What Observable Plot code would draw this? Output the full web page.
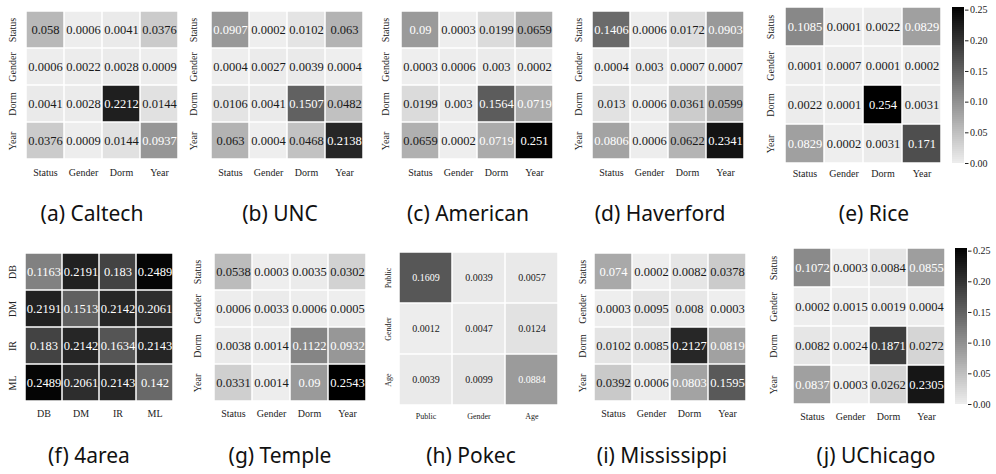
<!DOCTYPE html>
<html>
<head>
<meta charset="utf-8">
<script src="https://cdn.jsdelivr.net/npm/d3@7"></script>
<script src="https://cdn.jsdelivr.net/npm/@observablehq/plot@0.6"></script>
<style>
  html, body { margin: 0; padding: 0; background: #fff; }
  #root { position: relative; width: 996px; height: 474px; overflow: hidden; background: #fff; }
  .panel { position: absolute; }
  #root svg, #root svg text, #root svg g { font-family: "Liberation Serif", "DejaVu Serif", serif !important; }
  .cap { position: absolute; font-family: "Noto Sans", sans-serif; font-size: 21px; color: #111; white-space: nowrap; transform: translate(-50%, -50%); line-height: 1; }
</style>
</head>
<body>
<div id="root"></div>
<script>
// ---------- data ----------
const facLabels = ["Status", "Gender", "Dorm", "Year"];
const areaLabels = ["DB", "DM", "IR", "ML"];
const pokecLabels = ["Public", "Gender", "Age"];

const caltech = [
  [0.058, 0.0006, 0.0041, 0.0376],
  [0.0006, 0.0022, 0.0028, 0.0009],
  [0.0041, 0.0028, 0.2212, 0.0144],
  [0.0376, 0.0009, 0.0144, 0.0937]
];
const unc = [
  [0.0907, 0.0002, 0.0102, 0.063],
  [0.0004, 0.0027, 0.0039, 0.0004],
  [0.0106, 0.0041, 0.1507, 0.0482],
  [0.063, 0.0004, 0.0468, 0.2138]
];
const american = [
  [0.09, 0.0003, 0.0199, 0.0659],
  [0.0003, 0.0006, 0.003, 0.0002],
  [0.0199, 0.003, 0.1564, 0.0719],
  [0.0659, 0.0002, 0.0719, 0.251]
];
const haverford = [
  [0.1406, 0.0006, 0.0172, 0.0903],
  [0.0004, 0.003, 0.0007, 0.0007],
  [0.013, 0.0006, 0.0361, 0.0599],
  [0.0806, 0.0006, 0.0622, 0.2341]
];
const rice = [
  [0.1085, 0.0001, 0.0022, 0.0829],
  [0.0001, 0.0007, 0.0001, 0.0002],
  [0.0022, 0.0001, 0.254, 0.0031],
  [0.0829, 0.0002, 0.0031, 0.171]
];
const area4 = [
  [0.1163, 0.2191, 0.183, 0.2489],
  [0.2191, 0.1513, 0.2142, 0.2061],
  [0.183, 0.2142, 0.1634, 0.2143],
  [0.2489, 0.2061, 0.2143, 0.142]
];
const temple = [
  [0.0538, 0.0003, 0.0035, 0.0302],
  [0.0006, 0.0033, 0.0006, 0.0005],
  [0.0038, 0.0014, 0.1122, 0.0932],
  [0.0331, 0.0014, 0.09, 0.2543]
];
const pokec = [
  [0.1609, 0.0039, 0.0057],
  [0.0012, 0.0047, 0.0124],
  [0.0039, 0.0099, 0.0884]
];
const mississippi = [
  [0.074, 0.0002, 0.0082, 0.0378],
  [0.0003, 0.0095, 0.008, 0.0003],
  [0.0102, 0.0085, 0.2127, 0.0819],
  [0.0392, 0.0006, 0.0803, 0.1595]
];
const uchicago = [
  [0.1072, 0.0003, 0.0084, 0.0855],
  [0.0002, 0.0015, 0.0019, 0.0004],
  [0.0082, 0.0024, 0.1871, 0.0272],
  [0.0837, 0.0003, 0.0262, 0.2305]
];
const captions = ["(a) Caltech", "(b) UNC", "(c) American", "(d) Haverford", "(e) Rice",
                  "(f) 4area", "(g) Temple", "(h) Pokec", "(i) Mississippi", "(j) UChicago"];
const colorbarTicks = [0, 0.05, 0.1, 0.15, 0.2, 0.25];

// ---------- layout ----------
const panels = [
  {values: caltech, labels: facLabels},
  {values: unc, labels: facLabels},
  {values: american, labels: facLabels},
  {values: haverford, labels: facLabels},
  {values: rice, labels: facLabels},
  {values: area4, labels: areaLabels},
  {values: temple, labels: facLabels},
  {values: pokec, labels: pokecLabels},
  {values: mississippi, labels: facLabels},
  {values: uchicago, labels: facLabels}
];
const layout = [
  {x0: 25, x1: 179, y0: 11, y1: 159, yOff: 12.5, xOff: 13.5, cx: 92, cy: 213},
  {x0: 210, x1: 363, y0: 11, y1: 159, yOff: 17, xOff: 13.5, cx: 280, cy: 213},
  {x0: 401, x1: 553, y0: 11, y1: 159, yOff: 16, xOff: 13.5, cx: 468, cy: 213},
  {x0: 592, x1: 744, y0: 11, y1: 159, yOff: 14, xOff: 13.5, cx: 660, cy: 213},
  {x0: 783, x1: 942, y0: 7, y1: 163, yOff: 13, xOff: 10, cx: 874, cy: 213},
  {x0: 23, x1: 174, y0: 252, y1: 401, yOff: 11, xOff: 12.5, cx: 89, cy: 455},
  {x0: 214, x1: 366, y0: 252, y1: 401, yOff: 17, xOff: 12.5, cx: 280, cy: 455},
  {x0: 398, x1: 558, y0: 251, y1: 405, yOff: 10, xOff: 11, cx: 471, cy: 455, small: true},
  {x0: 592, x1: 747, y0: 252, y1: 401, yOff: 10, xOff: 12.5, cx: 662, cy: 455},
  {x0: 792, x1: 946, y0: 248, y1: 404, yOff: 19, xOff: 12, cx: 876, cy: 455}
];
const colorbars = [
  {x0: 952, x1: 964, y0: 7, y1: 163},
  {x0: 955, x1: 967, y0: 248, y1: 404}
];

const serif = "Liberation Serif";
const vmax = d3.max(panels.flatMap(p => p.values.flat()));
const lowColor = "#eeeeee";
const colorScale = {type: "linear", domain: [0, vmax], range: [lowColor, "#000000"]};
const interp = d3.scaleLinear().domain([0, vmax]).range([lowColor, "#000000"]);
function isDark(v) {
  const c = d3.rgb(interp(v));
  const lin = x => { x /= 255; return x <= 0.03928 ? x / 12.92 : Math.pow((x + 0.055) / 1.055, 2.4); };
  const lum = 0.2126 * lin(c.r) + 0.7152 * lin(c.g) + 0.0722 * lin(c.b);
  return lum <= 0.408;
}

const root = document.getElementById("root");
const mL = 32, mR = 4, mT = 4, mB = 26;

panels.forEach((p, k) => {
  const L = layout[k];
  const cells = [];
  p.labels.forEach((r, i) => p.labels.forEach((c, j) => cells.push({row: r, col: c, v: p.values[i][j]})));
  const w = L.x1 - L.x0, h = L.y1 - L.y0;
  const cellFont = L.small ? 10 : 12.5;
  const tickFont = L.small ? 8 : 10;
  const chart = Plot.plot({
    width: w + mL + mR, height: h + mT + mB,
    marginLeft: mL, marginRight: mR, marginTop: mT, marginBottom: mB,
    style: {background: "transparent", overflow: "visible"},
    x: {type: "band", domain: p.labels, padding: 0, axis: null},
    y: {type: "band", domain: p.labels, padding: 0, axis: null},
    color: colorScale,
    marks: [
      Plot.cell(cells, {x: "col", y: "row", fill: "v", inset: 0.75}),
      Plot.text(cells.filter(d => !isDark(d.v)), {x: "col", y: "row", text: d => String(d.v), fill: "#1a1a1a", fontSize: cellFont, fontFamily: serif}),
      Plot.text(cells.filter(d => isDark(d.v)), {x: "col", y: "row", text: d => String(d.v), fill: "#ffffff", fontSize: cellFont, fontFamily: serif}),
      Plot.text(p.labels, {x: d => d, frameAnchor: "bottom", dy: L.xOff, lineAnchor: "middle", fill: "#222", fontSize: tickFont, fontFamily: serif}),
      Plot.text(p.labels, {y: d => d, frameAnchor: "left", dx: -L.yOff, rotate: -90, textAnchor: "middle", lineAnchor: "middle", fill: "#222", fontSize: tickFont, fontFamily: serif})
    ]
  });
  chart.classList.add("panel");
  chart.style.left = (L.x0 - mL) + "px";
  chart.style.top = (L.y0 - mT) + "px";
  root.appendChild(chart);

  const cap = document.createElement("div");
  cap.className = "cap";
  cap.textContent = captions[k];
  cap.style.left = L.cx + "px";
  cap.style.top = L.cy + "px";
  root.appendChild(cap);
});

const nSteps = 78;
const step = vmax / nSteps;
const stops = d3.range(nSteps).map(i => i * step);
colorbars.forEach(C => {
  const cbL = 2, cbR = 34, cbT = 6, cbB = 6;
  const chart = Plot.plot({
    width: (C.x1 - C.x0) + cbL + cbR, height: (C.y1 - C.y0) + cbT + cbB,
    marginLeft: cbL, marginRight: cbR, marginTop: cbT, marginBottom: cbB,
    style: {background: "transparent", overflow: "visible", fontSize: "10px", color: "#222"},
    y: {domain: [0, vmax], axis: null},
    color: colorScale,
    marks: [
      Plot.rect(stops, {y1: d => d, y2: d => Math.min(vmax, d + step * 1.6), fill: d => d + step / 2, shapeRendering: "crispEdges"}),
      Plot.axisY({anchor: "right", ticks: colorbarTicks, tickFormat: d => d.toFixed(2), tickSize: 3.5, tickPadding: 2, fontSize: 10, fontFamily: serif})
    ]
  });
  chart.classList.add("panel");
  chart.style.left = (C.x0 - cbL) + "px";
  chart.style.top = (C.y0 - cbT) + "px";
  root.appendChild(chart);
});
</script>
</body>
</html>
